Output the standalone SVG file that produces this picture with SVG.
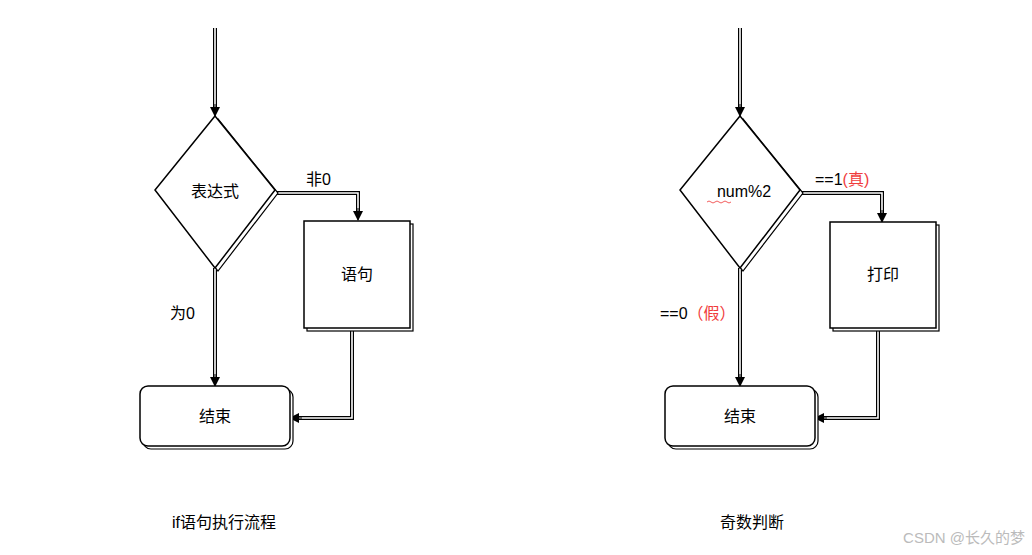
<svg xmlns="http://www.w3.org/2000/svg" width="1032" height="555" viewBox="0 0 1032 555">
<style>
.s{fill:#fff;stroke:#000;stroke-width:1.5}
.sh{fill:#fff;stroke:#000;stroke-width:1.2}
.o{fill:none;stroke:#000;stroke-width:4}
.i{fill:none;stroke:#fff;stroke-width:1.6}
.t{font-family:"Liberation Sans","Noto Sans CJK SC",sans-serif;font-size:16px;fill:#000}
.r{fill:#f03c3c}
</style>
<defs><marker id="a" markerWidth="10" markerHeight="10" refX="9" refY="5" orient="auto" markerUnits="userSpaceOnUse"><path d="M0,0 L10,5 L0,10 z" fill="#000"/></marker></defs>
<rect width="1032" height="555" fill="#fff"/>
<g id="connectors">
<path class="o" d="M215,28 V108"/><path class="i" d="M215,28 V108"/><path d="M215,104 V116" stroke="#000" marker-end="url(#a)"/>
<path class="o" d="M275,193 H358 V212"/><path class="i" d="M275,193 H358 V212"/><path d="M358,208 V220" stroke="#000" marker-end="url(#a)"/>
<path class="o" d="M215,268 V378"/><path class="i" d="M215,268 V378"/><path d="M215,374 V386" stroke="#000" marker-end="url(#a)"/>
<path class="o" d="M352,328 V418 H298"/><path class="i" d="M352,328 V418 H298"/><path d="M302,418 H290" stroke="#000" marker-end="url(#a)"/>
<path class="o" d="M740,28 V108"/><path class="i" d="M740,28 V108"/><path d="M740,104 V116" stroke="#000" marker-end="url(#a)"/>
<path class="o" d="M800,193 H882 V214"/><path class="i" d="M800,193 H882 V214"/><path d="M882,210 V222" stroke="#000" marker-end="url(#a)"/>
<path class="o" d="M740,268 V378"/><path class="i" d="M740,268 V378"/><path d="M740,374 V386" stroke="#000" marker-end="url(#a)"/>
<path class="o" d="M878,328 V418 H823"/><path class="i" d="M878,328 V418 H823"/><path d="M827,418 H815" stroke="#000" marker-end="url(#a)"/>
</g>
<g id="n1"><path class="sh" d="M218,119 L278,193 L218,271 L158,193Z"/><path class="s" d="M215,116 L275,190 L215,268 L155,190Z"/><text class="t" x="215" y="197" text-anchor="middle">表达式</text></g>
<g id="n2"><rect class="sh" x="307" y="224" width="106" height="107"/><rect class="s" x="304" y="221" width="106" height="107"/><text class="t" x="357" y="280" text-anchor="middle">语句</text></g>
<g id="n3"><rect class="sh" x="143" y="389" width="150" height="60" rx="8"/><rect class="s" x="140" y="386" width="150" height="60" rx="8"/><text class="t" x="215" y="422" text-anchor="middle">结束</text></g>
<g id="n4"><path class="sh" d="M743,119 L803,193 L743,271 L683,193Z"/><path class="s" d="M740,116 L800,190 L740,268 L680,190Z"/><text class="t" x="744" y="197" text-anchor="middle">num%2</text><path d="M707,202 q2,-2 4,0 t4,0 t4,0 t4,0 t4,0 t4,0" fill="none" stroke="#e33" stroke-width="0.8"/></g>
<g id="n5"><rect class="sh" x="833" y="225" width="106" height="106"/><rect class="s" x="830" y="222" width="106" height="106"/><text class="t" x="883" y="280" text-anchor="middle">打印</text></g>
<g id="n6"><rect class="sh" x="668" y="389" width="150" height="60" rx="8"/><rect class="s" x="665" y="386" width="150" height="60" rx="8"/><text class="t" x="740" y="422" text-anchor="middle">结束</text></g>
<text class="t" x="306" y="185">非0</text>
<text class="t" x="170" y="319">为0</text>
<text class="t" x="815" y="185">==1<tspan class="r">(真)</tspan></text>
<text class="t" x="660" y="319">==0<tspan class="r">（假）</tspan></text>
<text class="t" x="172" y="528">if语句执行流程</text>
<text class="t" x="720" y="528">奇数判断</text>
<text x="1025" y="543" text-anchor="end" font-family="Liberation Sans,Noto Sans CJK SC,sans-serif" font-size="15" fill="#bbb">CSDN @长久的梦</text>
</svg>
